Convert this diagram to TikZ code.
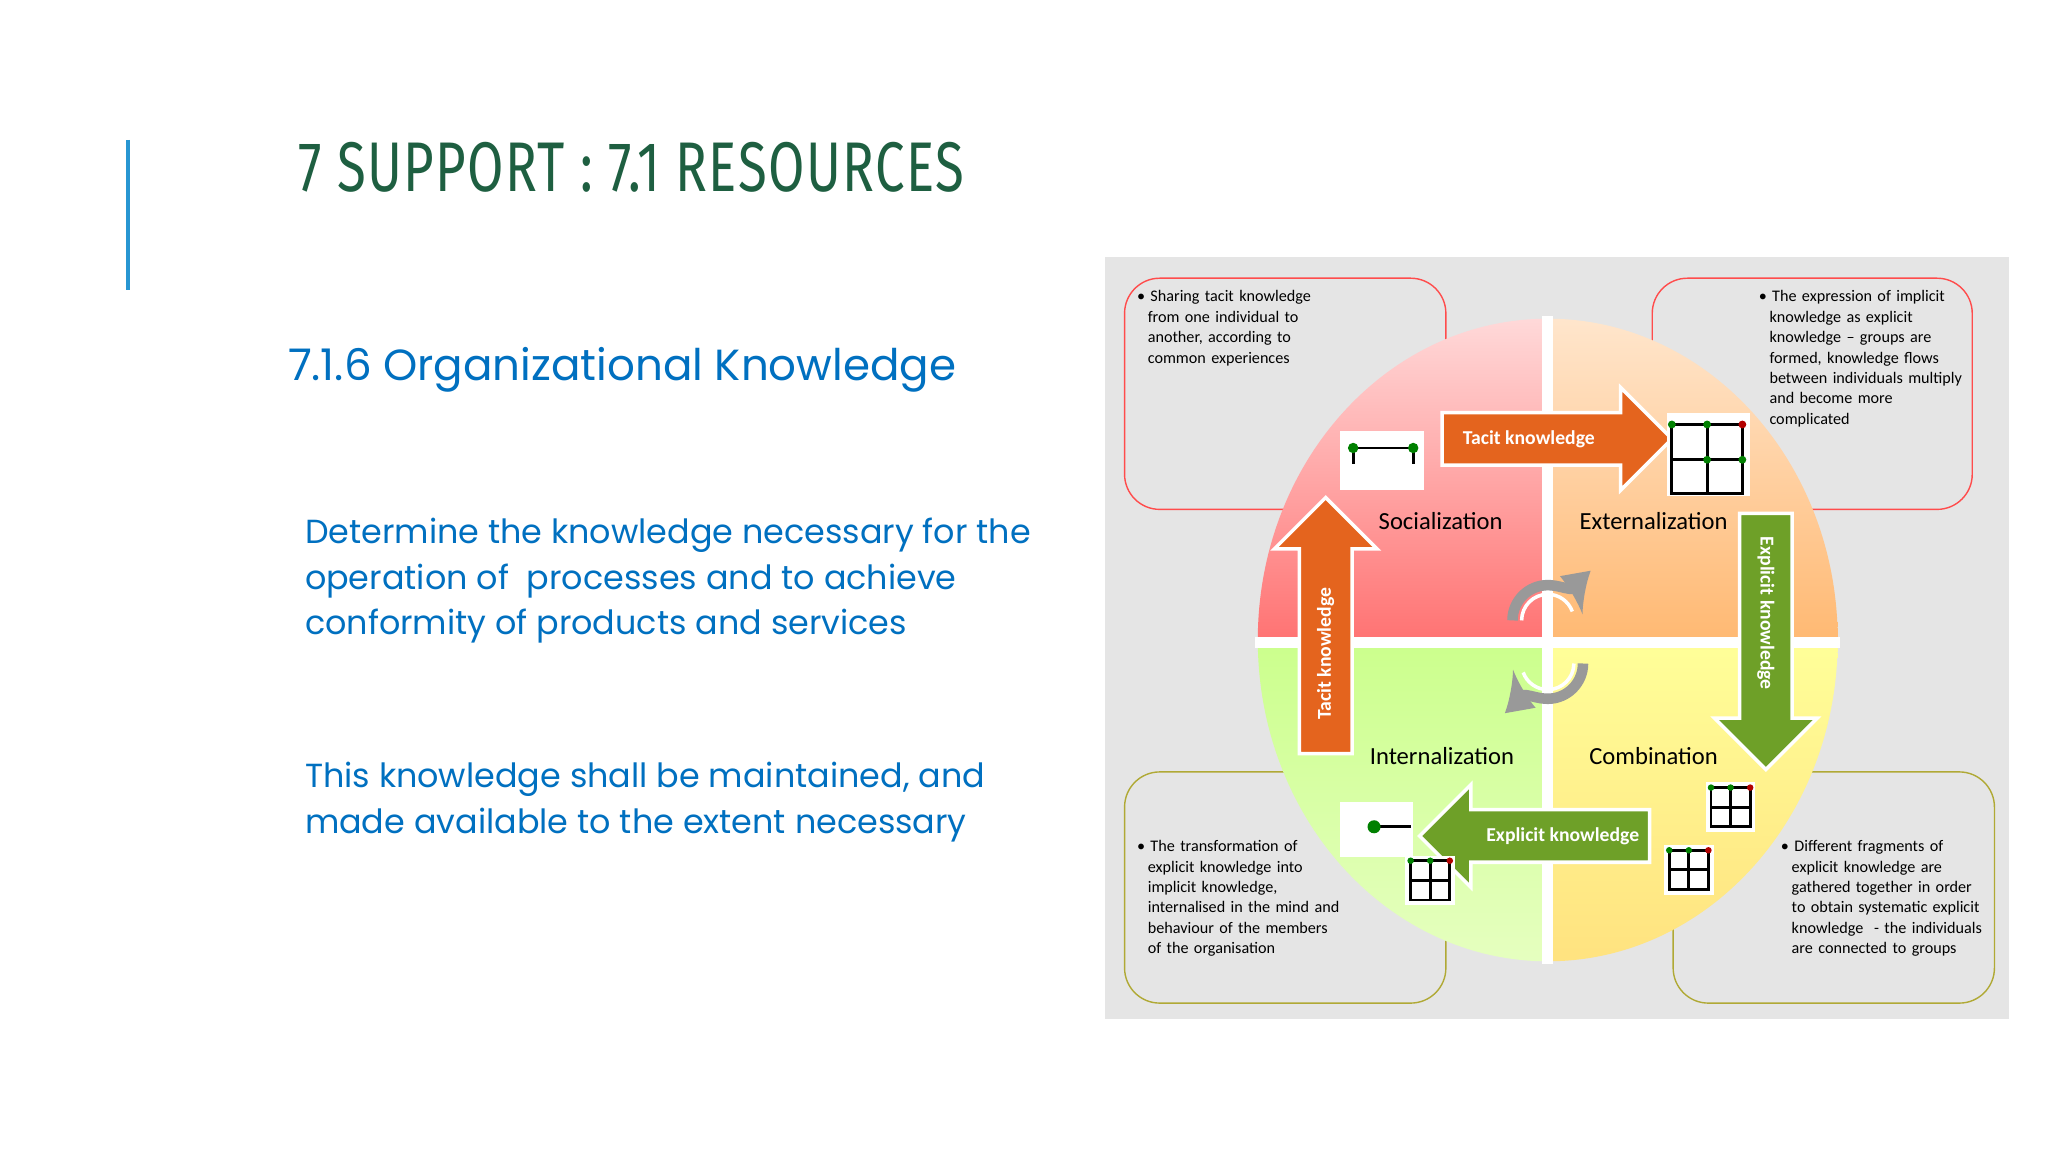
\documentclass[tikz,border=0pt]{standalone}
\usepackage{fontspec}
\setmainfont{Poppins}
\newfontfamily\titlef[FakeStretch=0.75,LetterSpace=2]{Fira Sans}
\newfontfamily\calf{Carlito}
\usetikzlibrary{shapes.arrows}
\definecolor{tgreen}{RGB}{30,95,65}
\definecolor{tblue}{RGB}{0,112,192}
\definecolor{lineblue}{RGB}{40,150,210}
\definecolor{orA}{RGB}{228,100,30}
\definecolor{grA}{RGB}{110,160,40}
\begin{document}
\begin{tikzpicture}[x=0.01306cm,y=-0.01306cm,
 cbox/.style={draw=#1!70!white,rounded corners=10pt,line width=0.4pt},
 small/.style={font=\calf\fontsize{4.6}{5.8}\selectfont,align=left,anchor=north west,inner sep=0pt,text width=#1},
 qlab/.style={font=\calf\fontsize{7}{8}\selectfont,inner sep=0pt},
 harrow/.style={single arrow,draw=white,line width=1pt,fill=#1,minimum height=2.3cm,single arrow head extend=0.25cm,inner xsep=0pt,inner ysep=0.16cm,font=\calf\bfseries\fontsize{5.6}{6}\selectfont,text=white},
 gridic/.style={draw=black,line width=0.8pt}]
\useasboundingbox (0,0) rectangle (1568,882);
\fill[white] (0,0) rectangle (1568,882);
\draw[lineblue,line width=1pt] (98,107) -- (98,222);
\node[anchor=west,text=tgreen,font=\titlef\fontsize{20}{24}\selectfont,inner sep=0pt] (title) at (228,128) {7 SUPPORT : 7.1 RESOURCES};
\node[anchor=west,text=tblue,font=\fontsize{12.4}{14}\selectfont,inner sep=0pt] (sub) at (220,283) {7.1.6 Organizational Knowledge};
\node[anchor=north west,text=tblue,font=\fontsize{9.5}{13}\selectfont,inner sep=0pt,align=left] (b1) at (233,396) {Determine the knowledge necessary for the\\operation of\ \ processes and to achieve\\conformity of products and services};
\node[anchor=north west,text=tblue,font=\fontsize{9.5}{13}\selectfont,inner sep=0pt,align=left] (b2) at (233,583) {This knowledge shall be maintained, and\\made available to the extent necessary};
% diagram
\fill[black!10] (846,197) rectangle (1538,780);
\draw[cbox=red] (861,213) rectangle (1107,390);
\draw[cbox=red] (1265,213) rectangle (1510,390);
\draw[cbox=olive] (861,591) rectangle (1107,768);
\draw[cbox=olive] (1281,591) rectangle (1527,768);
\shade[top color=red!15,bottom color=red!55] (1185,490) -- (963,490) arc[start angle=180,end angle=270,x radius=222,y radius=246] -- cycle;
\shade[top color=orange!20,bottom color=orange!55] (1185,490) -- (1185,244) arc[start angle=270,end angle=360,x radius=222,y radius=246] -- cycle;
\shade[top color=green!45!yellow!45,bottom color=green!40!yellow!25] (1185,490) -- (1185,736) arc[start angle=90,end angle=180,x radius=222,y radius=246] -- cycle;
\shade[top color=yellow!40,bottom color=yellow!55!orange!50] (1185,490) -- (1407,490) arc[start angle=0,end angle=90,x radius=222,y radius=246] -- cycle;
\draw[white,line width=3pt] (1185,242)--(1185,738) (961,492)--(1409,492);
\node[small=130] (t1) at (870,222) {\textbullet\ Sharing tacit knowledge\\\ \ from one individual to\\\ \ another, according to\\\ \ common experiences};
\node[small=160] (t2) at (1346,222) {\textbullet\ The expression of implicit\\\ \ knowledge as explicit\\\ \ knowledge – groups are\\\ \ formed, knowledge flows\\\ \ between individuals multiply\\\ \ and become more\\\ \ complicated};
\node[small=160] (t3) at (870,643) {\textbullet\ The transformation of\\\ \ explicit knowledge into\\\ \ implicit knowledge,\\\ \ internalised in the mind and\\\ \ behaviour of the members\\\ \ of the organisation};
\node[small=160] (t4) at (1363,643) {\textbullet\ Different fragments of\\\ \ explicit knowledge are\\\ \ gathered together in order\\\ \ to obtain systematic explicit\\\ \ knowledge\ \ - the individuals\\\ \ are connected to groups};
\node[harrow=orA] (a1) at (1182,336) {\hspace*{0pt}Tacit knowledge\hspace*{0.3cm}};
\node[harrow=grA,rotate=-90,minimum height=2.56cm] (a2) at (1352,481) {\hspace*{0pt}Explicit knowledge\hspace*{0.3cm}};
\node[harrow=grA,rotate=180] (a3) at (1185,640) {\rotatebox{180}{Explicit knowledge}\hspace*{0.3cm}};
\node[harrow=orA,rotate=90,minimum height=2.56cm] (a4) at (1015,489) {Tacit knowledge\hspace*{0.3cm}};
\node[qlab] (q1) at (1103,399) {Socialization};
\node[qlab] (q2) at (1266,399) {Externalization};
\node[qlab] (q3) at (1104,579) {Internalization};
\node[qlab] (q4) at (1266,579) {Combination};
% icons
\fill[white] (1026,330) rectangle (1090,375);
\draw[gridic] (1036,343) -- (1082,343) (1036,343)--(1036,355) (1082,343)--(1082,355);
\fill[green!50!black] (1036,343) circle (4) (1082,343) circle (4);
\fill[white] (1276,316) rectangle (1340,380);
\draw[gridic] (1280,325) rectangle (1334,378) (1280,352)--(1334,352) (1307,325)--(1307,378);
\fill[green!50!black] (1280,325) circle (3) (1307,325) circle (3) (1307,352) circle (3) (1334,352) circle (3);
\fill[red!70!black] (1334,325) circle (3);
\fill[white] (1026,614) rectangle (1082,656);
\draw[gridic] (1052,633) -- (1080,633);
\fill[green!50!black] (1052,633) circle (5);
\foreach \x/\y in {1076/655,1306/599,1274/647}{
 \fill[white] (\x,\y) rectangle ++(38,38);
 \draw[gridic] (\x+4,\y+4) rectangle ++(30,30) (\x+4,\y+19)--++(30,0) (\x+19,\y+4)--++(0,30);
 \fill[green!50!black] (\x+4,\y+4) circle (2.5) (\x+19,\y+4) circle (2.5);
 \fill[red!70!black] (\x+34,\y+4) circle (2.5);}
% center arrows
\draw[black!40,line width=3pt,-latex] (1158,475) arc[start angle=180,end angle=350,radius=27];
\draw[white,line width=1pt] (1165,475) arc[start angle=180,end angle=340,radius=20];
\draw[black!40,line width=3pt,-latex] (1212,508) arc[start angle=0,end angle=170,radius=27];
\draw[white,line width=1pt] (1205,508) arc[start angle=0,end angle=160,radius=20];
\end{tikzpicture}
\end{document}
